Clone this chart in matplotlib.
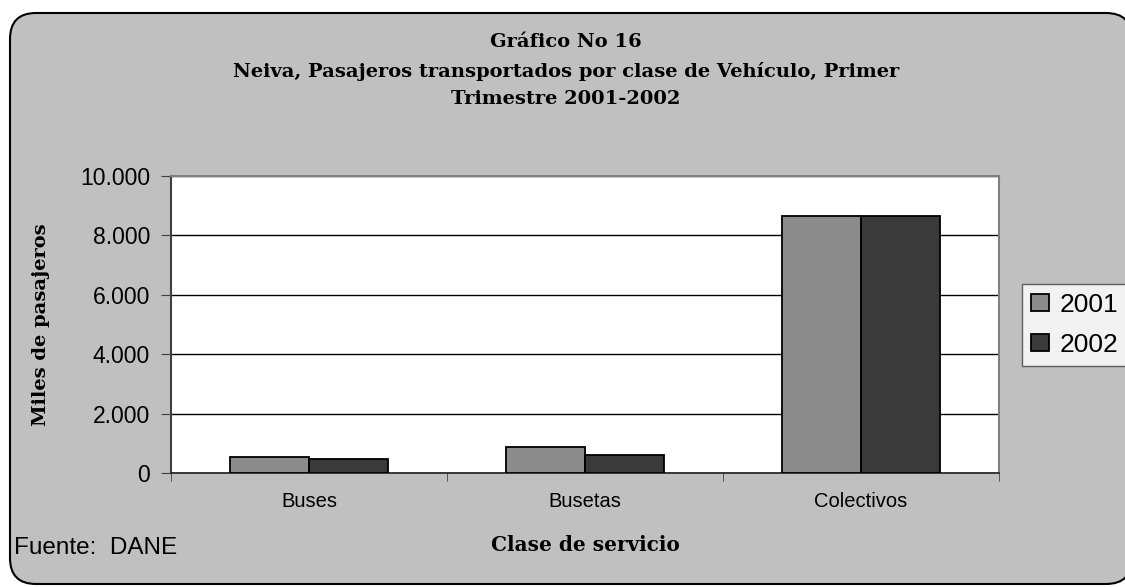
import matplotlib.pyplot as plt
import numpy as np
from matplotlib.patches import FancyBboxPatch
from matplotlib.ticker import FuncFormatter, FixedLocator

categorias = ['Buses', 'Busetas', 'Colectivos']
anios = ['2001', '2002']
pasajeros_2001 = [550, 880, 8650]
pasajeros_2002 = [480, 620, 8650]
colores = ['#8c8c8c', '#3a3a3a']

serif = ['DejaVu Serif']
sans = ['Liberation Sans', 'DejaVu Sans']

fig = plt.figure(figsize=(11.25, 5.87), dpi=100, facecolor='white')

# marco redondeado del grafico (en pixeles)
marco = FancyBboxPatch((10, 3), 1122, 571, boxstyle='round,pad=0,rounding_size=26',
                       transform=None, facecolor='#c0c0c0', edgecolor='black',
                       linewidth=1.5, zorder=-5)
fig.patches.append(marco)

ax = fig.add_axes([0.152, 0.1934, 0.736, 0.507])
ax.set_facecolor('white')

x = np.arange(len(categorias))
ancho = 0.287
ax.bar(x - ancho / 2, pasajeros_2001, ancho, color=colores[0], edgecolor='black',
       linewidth=1.3, label=anios[0], zorder=3)
ax.bar(x + ancho / 2, pasajeros_2002, ancho, color=colores[1], edgecolor='black',
       linewidth=1.3, label=anios[1], zorder=3)

ax.set_xlim(-0.5, 2.5)
ax.set_ylim(0, 10000)
ax.yaxis.set_major_locator(FixedLocator([0, 2000, 4000, 6000, 8000, 10000]))
ax.yaxis.set_major_formatter(FuncFormatter(lambda v, p: f'{int(v):,}'.replace(',', '.')))
ax.grid(axis='y', color='black', linewidth=1, zorder=1)

ax.set_xticks(x)
ax.set_xticklabels(categorias, family=sans, fontsize=14.5)
ax.set_xticks([-0.5, 0.5, 1.5, 2.5], minor=True)
ax.tick_params(axis='x', which='major', length=0, pad=13)
ax.tick_params(axis='x', which='minor', length=6, color='#404040')
ax.tick_params(axis='y', length=7, color='#404040', pad=8)
for lab in ax.get_yticklabels():
    lab.set_family(sans)
    lab.set_fontsize(16.5)

for lado in ['top', 'right']:
    ax.spines[lado].set_color('#808080')
    ax.spines[lado].set_linewidth(1.5)
ax.spines['left'].set_color('#404040')
ax.spines['left'].set_linewidth(1.5)
ax.spines['bottom'].set_color('#202020')
ax.spines['bottom'].set_linewidth(1.2)

ax.set_ylabel('Miles de pasajeros', family=serif, fontweight='bold', fontsize=14)
ax.yaxis.set_label_coords(-0.146, 0.5)

fig.text(0.503, 0.928, 'Gráfico No 16', ha='center', va='center', family=serif,
         fontweight='bold', fontsize=14)
fig.text(0.503, 0.879, 'Neiva, Pasajeros transportados por clase de Vehículo, Primer',
         ha='center', va='center', family=serif, fontweight='bold', fontsize=14)
fig.text(0.503, 0.832, 'Trimestre 2001-2002', ha='center', va='center', family=serif,
         fontweight='bold', fontsize=14)
fig.text(0.52, 0.071, 'Clase de servicio', ha='center', va='center', family=serif,
         fontweight='bold', fontsize=14.4)
fig.text(0.012, 0.066, 'Fuente:  DANE', ha='left', va='center', family=sans,
         fontsize=17.5)

leg = ax.legend(loc='center left', bbox_to_anchor=(1.028, 0.5), prop={'family': sans, 'size': 19},
                frameon=True, fancybox=False, edgecolor='#404040', handlelength=0.65,
                handleheight=0.65, handletextpad=0.4, borderpad=0.35, labelspacing=0.6,
                borderaxespad=0)
leg.get_frame().set_linewidth(1)

fig.savefig('out.png', dpi=100, facecolor='white')
